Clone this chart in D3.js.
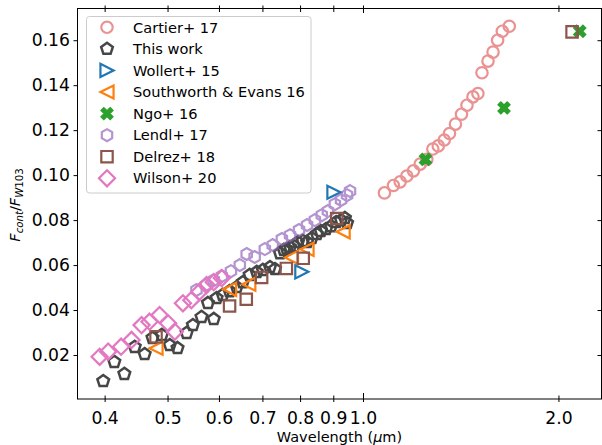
<!DOCTYPE html>
<html><head><meta charset="utf-8">
<script src="https://cdn.jsdelivr.net/npm/d3@7"></script>
<style>body{margin:0;background:#fff}svg{display:block;font-family:"DejaVu Sans",sans-serif}</style>
</head><body>
<svg id="c" width="602" height="445"></svg>
<script>
// ---- data ----
const cartierWave = [1.079,1.114,1.141,1.168,1.196,1.225,1.254,1.281,1.306,1.334,1.359,1.388,1.418,1.446,1.477,1.503,1.525,1.558,1.586,1.612,1.639,1.680];
const cartierFlux = [0.0921,0.0954,0.0970,0.0996,0.1019,0.1049,0.1070,0.1116,0.1130,0.1156,0.1185,0.1227,0.1271,0.1311,0.1348,0.1363,0.1455,0.1507,0.1547,0.1600,0.1640,0.1662];
const thisWave = [0.398,0.414,0.429,0.445,0.461,0.474,0.490,0.504,0.518,0.535,0.547,0.564,0.577,0.589,0.595,0.608,0.623,0.639,0.653,0.669,0.686,0.701,0.719,0.732,0.745,0.755,0.763,0.772,0.783,0.794,0.808,0.820,0.834,0.849,0.861,0.877,0.893,0.909,0.925,0.938,0.945];
const thisFlux = [0.0084,0.0169,0.0116,0.0236,0.0204,0.0276,0.0289,0.0244,0.0231,0.0298,0.0333,0.0369,0.0431,0.0360,0.0453,0.0467,0.0484,0.0502,0.0524,0.0556,0.0569,0.0578,0.0591,0.0582,0.0653,0.0667,0.0671,0.0680,0.0684,0.0702,0.0707,0.0702,0.0720,0.0738,0.0751,0.0760,0.0773,0.0791,0.0800,0.0809,0.0787];
const wollertWave = [0.902,0.805];
const wollertFlux = [0.0924,0.0570];
const southWave = [0.480,0.623,0.667,0.776,0.820,0.932];
const southFlux = [0.0230,0.0492,0.0515,0.0634,0.0670,0.0748];
const ngoWave = [1.248,1.649,2.157];
const ngoFlux = [0.1070,0.1299,0.1640];
const lendlWave = [0.554,0.573,0.589,0.606,0.626,0.646,0.662,0.681,0.706,0.726,0.750,0.772,0.797,0.820,0.843,0.864,0.883,0.905,0.925,0.945,0.955];
const lendlFlux = [0.0489,0.0511,0.0533,0.0551,0.0573,0.0600,0.0649,0.0636,0.0671,0.0689,0.0716,0.0733,0.0756,0.0778,0.0800,0.0822,0.0840,0.0871,0.0889,0.0911,0.0929];
const delrezWave = [0.480,0.623,0.661,0.698,0.762,0.809,0.911,2.099];
const delrezFlux = [0.0281,0.0418,0.0448,0.0545,0.0585,0.0630,0.0807,0.1637];
const wilsonWave = [0.393,0.405,0.424,0.440,0.456,0.469,0.486,0.501,0.513,0.528,0.544,0.560,0.574,0.589,0.606];
const wilsonFlux = [0.0192,0.0215,0.0237,0.0267,0.0333,0.0348,0.0378,0.0341,0.0304,0.0430,0.0444,0.0481,0.0511,0.0524,0.0542];
const xTicks = [0.4,0.5,0.6,0.7,0.8,0.9,1.0,2.0];
const xTickLabels = ["0.4","0.5","0.6","0.7","0.8","0.9","1.0","2.0"];
const yTicks = [0.02,0.04,0.06,0.08,0.10,0.12,0.14,0.16];
const yTickLabels = ["0.02","0.04","0.06","0.08","0.10","0.12","0.14","0.16"];
const seriesNames = ["Cartier+ 17","This work","Wollert+ 15","Southworth & Evans 16","Ngo+ 16","Lendl+ 17","Delrez+ 18","Wilson+ 20"];

// ---- layout ----
const PL = 77.5, PR = 601.5, PT = 8.5, PB = 399;
const x = d3.scaleLog().domain([0.3633, 2.330]).range([PL, PR]);
const y = d3.scaleLinear().domain([0.00044, 0.1741]).range([PB, PT]);
const svg = d3.select("#c");
const MS = 5.7; // half marker size

function poly(n, rad, rot) {
  const p = d3.path();
  for (let i = 0; i < n; i++) {
    const a = rot + i * 2 * Math.PI / n;
    const px = rad * Math.cos(a), py = rad * Math.sin(a);
    if (i === 0) p.moveTo(px, py); else p.lineTo(px, py);
  }
  p.closePath();
  return p.toString();
}
function pts(arr) { return "M" + arr.map(d => d.join(",")).join("L") + "Z"; }
const r = MS;
const t = r * 1.15;
const shapes = {
  circle: d3.symbol().type(d3.symbolCircle).size(Math.PI * r * r)(),
  pentagon: poly(5, r * 1.08, -Math.PI / 2),
  triRight: pts([[t, 0], [-t, t], [-t, -t]]),
  triLeft: pts([[-t, 0], [t, -t], [t, t]]),
  xmark: (() => {
    const w = r / 2.8, l = r * 1.15;
    const base = [[-w,-l],[w,-l],[w,-w],[l,-w],[l,w],[w,w],[w,l],[-w,l],[-w,w],[-l,w],[-l,-w],[-w,-w]];
    const c = Math.SQRT1_2;
    return pts(base.map(([a,b]) => [(a - b) * c, (a + b) * c]));
  })(),
  hexagon: poly(6, r * 1.05, -Math.PI / 2),
  square: pts([[-r,-r],[r,-r],[r,r],[-r,r]]),
  diamond: pts([[0,-r*1.414],[r*1.414,0],[0,r*1.414],[-r*1.414,0]])
};

const series = [
  {name: seriesNames[0], wave: cartierWave, flux: cartierFlux, shape: "circle", color: "#d62728", op: 0.5, fill: "none"},
  {name: seriesNames[1], wave: thisWave, flux: thisFlux, shape: "pentagon", color: "#000000", op: 0.72, fill: "none"},
  {name: seriesNames[2], wave: wollertWave, flux: wollertFlux, shape: "triRight", color: "#1f77b4", op: 1, fill: "none"},
  {name: seriesNames[3], wave: southWave, flux: southFlux, shape: "triLeft", color: "#ff7f0e", op: 1, fill: "none"},
  {name: seriesNames[4], wave: ngoWave, flux: ngoFlux, shape: "xmark", color: "#2ca02c", op: 1, fill: "#2ca02c"},
  {name: seriesNames[5], wave: lendlWave, flux: lendlFlux, shape: "hexagon", color: "#9467bd", op: 0.7, fill: "none"},
  {name: seriesNames[6], wave: delrezWave, flux: delrezFlux, shape: "square", color: "#8c564b", op: 1, fill: "none"},
  {name: seriesNames[7], wave: wilsonWave, flux: wilsonFlux, shape: "diamond", color: "#e377c2", op: 1, fill: "none"}
];

// ---- marks ----
const plot = svg.append("g");
series.forEach(s => {
  const g = plot.append("g").attr("opacity", s.op);
  g.selectAll("path").data(s.wave.map((w, i) => [w, s.flux[i]])).join("path")
    .attr("d", shapes[s.shape])
    .attr("transform", d => `translate(${x(d[0])},${y(d[1])})`)
    .attr("fill", s.fill)
    .attr("stroke", s.color)
    .attr("stroke-width", s.shape === "xmark" ? 1.2 : (s.shape === "pentagon" ? 2.5 : 2.2))
    .attr("stroke-linejoin", "miter");
});

// ---- axes ----
svg.append("rect").attr("x", PL).attr("y", PT).attr("width", PR - PL).attr("height", PB - PT)
  .attr("fill", "none").attr("stroke", "#000").attr("stroke-width", 1);
const axB = svg.append("g").attr("transform", `translate(0,${PB})`)
  .call(d3.axisBottom(x).tickValues(xTicks).tickFormat((d, i) => xTickLabels[i]).tickSize(3).tickPadding(9.5));
axB.select(".domain").remove();
axB.selectAll(".tick line").attr("y1", d => d === 1.0 ? -6 : -3.5).attr("y2", 3).attr("stroke", "#000");
axB.selectAll(".tick text").attr("font-size", 17.2).attr("font-family", "DejaVu Sans").attr("fill", "#000");
const axT = svg.append("g").attr("transform", `translate(0,${PT})`)
  .call(d3.axisTop(x).tickValues(xTicks).tickFormat("").tickSize(3));
axT.select(".domain").remove();
axT.selectAll(".tick line").attr("y1", -3).attr("y2", d => d === 1.0 ? 4.5 : 3.5).attr("stroke", "#000");

const axL = svg.append("g").attr("transform", `translate(${PL},0)`)
  .call(d3.axisLeft(y).tickValues(yTicks).tickFormat((d, i) => yTickLabels[i]).tickSize(4).tickPadding(3.5));
axL.select(".domain").remove();
axL.selectAll(".tick line").attr("stroke", "#000");
axL.selectAll(".tick text").attr("font-size", 17.2).attr("font-family", "DejaVu Sans").attr("fill", "#000");
const axR = svg.append("g").attr("transform", `translate(${PR},0)`)
  .call(d3.axisLeft(y).tickValues(yTicks).tickFormat("").tickSize(4));
axR.select(".domain").remove();
axR.selectAll(".tick line").attr("x2", -4).attr("stroke", "#000");

// axis labels
const xl = svg.append("text").attr("x", (PL + PR) / 2).attr("y", 441.5).attr("text-anchor", "middle")
  .attr("font-size", 14.5).attr("fill", "#000");
xl.append("tspan").text("Wavelength (");
xl.append("tspan").attr("font-style", "italic").text("μ");
xl.append("tspan").text("m)");

const yl = svg.append("text").attr("transform", "translate(19.5,205) rotate(-90)").attr("text-anchor", "middle")
  .attr("font-size", 14.5).attr("fill", "#000");
yl.append("tspan").attr("font-style", "italic").text("F");
yl.append("tspan").attr("font-style", "italic").attr("font-size", 10.2).attr("dy", 3).text("cont");
yl.append("tspan").attr("dy", -3).text("/");
yl.append("tspan").attr("font-style", "italic").text("F");
yl.append("tspan").attr("font-style", "italic").attr("font-size", 10.2).attr("dy", 3).text("W");
yl.append("tspan").attr("font-size", 10.2).text("103");

// ---- legend ----
const lg = svg.append("g");
lg.append("rect").attr("x", 86.5).attr("y", 16.5).attr("width", 224.5).attr("height", 176.5)
  .attr("rx", 3).attr("fill", "#fff").attr("fill-opacity", 0.8).attr("stroke", "#cccccc").attr("stroke-width", 1);
series.forEach((s, i) => {
  const cy = 27.3 + i * 21.57;
  lg.append("path").attr("d", shapes[s.shape]).attr("transform", `translate(107,${cy})`)
    .attr("fill", s.fill).attr("stroke", s.color)
    .attr("stroke-width", s.shape === "xmark" ? 1.2 : (s.shape === "pentagon" ? 2.5 : 2.2))
    .attr("opacity", s.op).attr("stroke-linejoin", "miter");
  lg.append("text").attr("x", 133).attr("y", cy + 5.2).attr("font-size", 14.6).attr("fill", "#000").text(s.name);
});
</script>
</body></html>
